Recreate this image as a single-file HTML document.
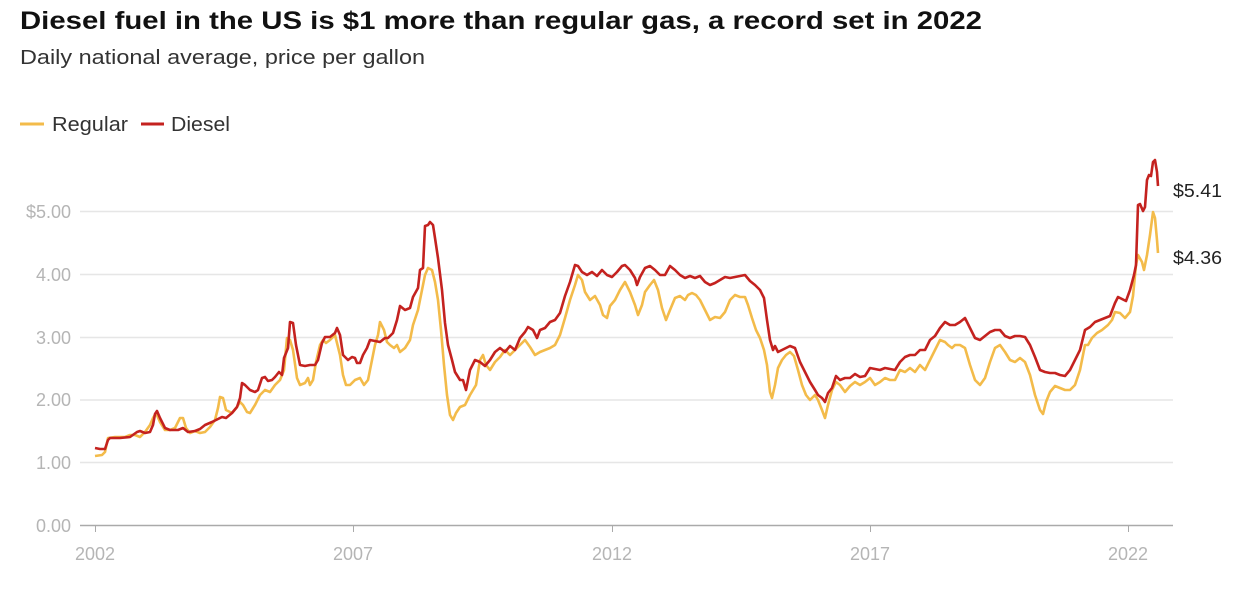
<!DOCTYPE html>
<html><head><meta charset="utf-8"><style>
body{margin:0;background:#fff;width:1240px;height:596px;overflow:hidden;font-family:"Liberation Sans",Arial,sans-serif}
</style></head><body>
<svg width="1240" height="596" xmlns="http://www.w3.org/2000/svg" font-family="Liberation Sans, Arial, sans-serif">
<text x="20" y="29" font-size="25" font-weight="bold" fill="#111" textLength="962" lengthAdjust="spacingAndGlyphs">Diesel fuel in the US is $1 more than regular gas, a record set in 2022</text>
<text x="20" y="64" font-size="20" fill="#333" textLength="405" lengthAdjust="spacingAndGlyphs">Daily national average, price per gallon</text>
<line x1="20" y1="124" x2="44" y2="124" stroke="#f3bb4a" stroke-width="3"/>
<text x="52" y="131" font-size="20" fill="#333" textLength="76" lengthAdjust="spacingAndGlyphs">Regular</text>
<line x1="141" y1="124" x2="164" y2="124" stroke="#c4221f" stroke-width="3"/>
<text x="171" y="131" font-size="20" fill="#333" textLength="59" lengthAdjust="spacingAndGlyphs">Diesel</text>
<g stroke="#e6e6e6" stroke-width="1.5">
<line x1="80" y1="211.5" x2="1173" y2="211.5"/>
<line x1="80" y1="274.5" x2="1173" y2="274.5"/>
<line x1="80" y1="337.5" x2="1173" y2="337.5"/>
<line x1="80" y1="400" x2="1173" y2="400"/>
<line x1="80" y1="462.5" x2="1173" y2="462.5"/>
</g>
<line x1="80" y1="525.5" x2="1173" y2="525.5" stroke="#aaa" stroke-width="1.5"/>
<g stroke="#aaa" stroke-width="1"><line x1="95.5" y1="525" x2="95.5" y2="532"/><line x1="353.5" y1="525" x2="353.5" y2="532"/><line x1="612.5" y1="525" x2="612.5" y2="532"/><line x1="870.5" y1="525" x2="870.5" y2="532"/><line x1="1128.5" y1="525" x2="1128.5" y2="532"/></g>
<g font-size="18" fill="#b5b5b5" text-anchor="end">
<text x="71" y="218">$5.00</text><text x="71" y="281">4.00</text><text x="71" y="344">3.00</text><text x="71" y="406">2.00</text><text x="71" y="469">1.00</text><text x="71" y="532">0.00</text>
</g>
<g font-size="18" fill="#b5b5b5" text-anchor="middle">
<text x="95" y="560">2002</text><text x="353" y="560">2007</text><text x="612" y="560">2012</text><text x="870" y="560">2017</text><text x="1128" y="560">2022</text>
</g>
<polyline fill="none" stroke="#f3bb4a" stroke-width="2.6" stroke-linejoin="round" points="95,456 102,455 105,452 108,438 115,437 125,437 130,435 135,435 140,437 145,432 150,425 153,418 156,413 160,422 165,430 170,430 175,428 180,418 183,418 186,428 190,433 195,431 200,433 205,432 210,427 215,420 218,408 220,397 223,398 226,410 232,413 237,407 240,402 243,405 247,412 250,413 255,405 260,395 265,390 270,392 275,385 280,380 284,370 287,338 290,340 293,350 297,378 300,385 305,383 308,378 310,385 313,380 316,362 320,345 323,340 326,343 330,340 335,335 340,355 343,375 346,385 350,385 355,380 360,378 364,385 368,380 372,360 375,345 378,335 380,322 384,330 387,342 390,345 394,348 397,345 400,352 405,348 410,340 413,325 418,310 422,290 425,275 428,268 432,270 435,282 438,300 441,330 444,365 447,395 450,415 453,420 456,413 460,407 465,405 470,395 473,390 476,385 480,360 483,355 486,365 490,370 495,362 500,357 505,350 510,355 515,350 520,345 525,340 530,347 535,355 540,352 545,350 550,348 555,345 560,335 565,318 570,300 575,285 578,275 582,280 585,292 590,300 595,296 600,305 603,315 607,318 610,306 615,300 620,290 625,282 630,292 635,305 638,315 642,305 645,292 650,285 654,280 658,290 662,308 666,320 670,310 675,298 680,296 685,300 688,295 692,293 696,295 700,300 705,310 710,320 715,317 720,318 725,312 730,300 735,295 740,297 745,297 748,305 752,318 756,330 760,338 764,350 767,365 770,392 772,398 775,385 778,368 782,360 786,355 790,352 794,356 798,370 802,385 806,395 810,400 815,395 818,400 822,410 825,418 828,405 832,390 836,382 840,385 845,392 850,386 855,382 860,385 865,382 870,378 875,385 880,382 885,378 890,380 895,380 900,370 905,372 910,368 915,372 920,365 925,370 930,360 935,350 940,340 945,342 948,345 952,348 955,345 960,345 965,348 970,365 975,380 980,385 985,378 990,362 995,348 1000,345 1005,352 1010,360 1015,362 1020,358 1025,362 1030,375 1035,395 1040,410 1043,414 1046,402 1050,392 1055,386 1060,388 1065,390 1070,390 1075,385 1080,370 1085,345 1088,345 1092,338 1097,333 1102,330 1108,325 1112,320 1115,312 1120,313 1125,318 1130,312 1133,296 1136,265 1138,255 1142,262 1144,270 1147,255 1150,235 1153,212 1155,218 1157,240 1158,253"/>
<polyline fill="none" stroke="#c4221f" stroke-width="2.6" stroke-linejoin="round" points="95,448 100,449 105,449 108,440 110,438 120,438 130,437 137,432 140,431 145,433 150,432 153,425 155,414 157,411 160,418 165,428 170,430 178,430 183,428 188,432 195,431 200,429 205,425 212,422 218,419 222,417 226,418 232,413 237,407 240,398 242,383 245,385 250,390 255,392 258,390 262,378 265,377 268,381 272,380 275,377 279,372 282,375 284,358 288,348 290,322 293,323 296,345 300,365 305,366 310,365 315,365 318,360 322,343 325,337 330,337 335,333 337,328 340,335 343,355 348,360 352,357 355,358 357,363 360,363 363,355 367,348 370,340 375,341 380,342 385,338 388,338 393,333 397,320 400,306 405,310 410,308 413,297 418,288 420,270 423,268 425,226 428,225 430,222 433,225 435,238 438,258 442,290 445,323 448,345 452,360 455,372 460,380 463,380 466,390 470,370 475,360 480,362 485,366 490,360 495,352 500,348 505,352 510,346 515,350 520,338 525,332 528,327 533,330 537,338 540,330 545,328 550,322 555,320 560,313 565,296 570,282 575,265 578,266 582,272 587,275 592,272 597,276 602,270 607,275 612,277 617,272 622,266 625,265 630,270 635,278 637,285 640,277 645,268 650,266 655,270 660,275 665,275 670,266 675,270 680,275 685,278 690,276 695,278 700,276 705,282 710,285 715,283 720,280 725,277 730,278 735,277 740,276 745,275 750,281 755,285 760,290 764,298 767,320 770,340 773,350 775,346 778,352 782,350 786,348 790,346 795,348 800,362 805,372 810,382 815,390 818,395 822,398 825,402 828,393 832,388 836,376 840,380 845,378 850,378 855,374 860,377 865,376 870,368 875,369 880,370 885,368 890,369 895,370 900,362 905,357 910,355 915,355 920,350 925,350 930,340 935,336 940,328 945,322 950,325 955,325 960,322 965,318 970,328 975,338 980,340 985,336 990,332 995,330 1000,330 1005,336 1010,338 1015,336 1020,336 1025,337 1030,345 1035,357 1040,370 1045,372 1050,373 1055,373 1060,375 1065,376 1070,370 1075,360 1080,350 1085,330 1090,327 1095,322 1100,320 1105,318 1110,316 1115,303 1118,297 1122,299 1126,301 1130,290 1134,275 1136,265 1138,205 1140,204 1143,211 1145,207 1147,180 1149,175 1151,176 1153,162 1155,160 1157,172 1158,186"/>
<text x="1173" y="197" font-size="18" fill="#222" textLength="49" lengthAdjust="spacingAndGlyphs">$5.41</text>
<text x="1173" y="264" font-size="18" fill="#222" textLength="49" lengthAdjust="spacingAndGlyphs">$4.36</text>
</svg>
</body></html>
